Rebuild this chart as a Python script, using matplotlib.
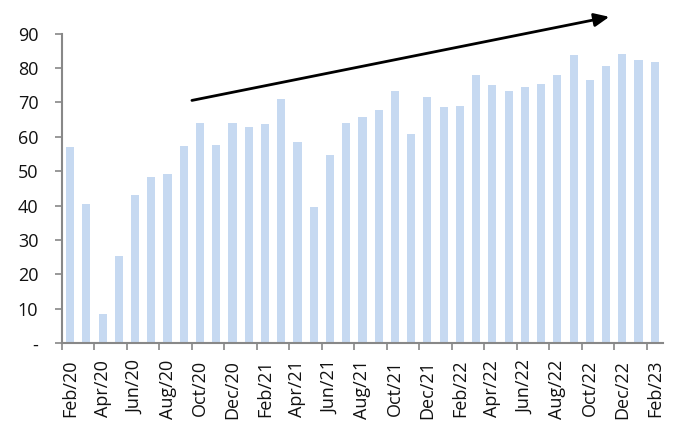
import matplotlib
matplotlib.use("Agg")
import matplotlib.pyplot as plt
import numpy as np

months = ["Feb/20","Mar/20","Apr/20","May/20","Jun/20","Jul/20","Aug/20","Sep/20","Oct/20","Nov/20","Dec/20",
          "Jan/21","Feb/21","Mar/21","Apr/21","May/21","Jun/21","Jul/21","Aug/21","Sep/21","Oct/21","Nov/21","Dec/21",
          "Jan/22","Feb/22","Mar/22","Apr/22","May/22","Jun/22","Jul/22","Aug/22","Sep/22","Oct/22","Nov/22","Dec/22",
          "Jan/23","Feb/23"]
values = [57.1, 40.6, 8.5, 25.3, 43.2, 48.3, 49.3, 57.4, 64.0, 57.7, 64.0,
          62.8, 63.7, 71.1, 58.5, 39.7, 54.7, 64.0, 65.8, 67.8, 73.4, 60.9, 71.5,
          68.7, 69.0, 78.0, 75.1, 73.4, 74.4, 75.4, 78.1, 83.8, 76.6, 80.5, 84.0,
          82.3, 81.8]
yticks = [0, 10, 20, 30, 40, 50, 60, 70, 80, 90]
ytick_labels = ["-", "10", "20", "30", "40", "50", "60", "70", "80", "90"]
arrow_start = (7.5, 70.6)
arrow_end = (33.2, 94.9)

plt.rcParams['font.family'] = ['Open Sans', 'DejaVu Sans']

fig = plt.figure(figsize=(6.73, 4.21), dpi=100)
ax = fig.add_axes([0.0921, 0.1846, 0.985 - 0.0921, 0.92 - 0.1846])

x = np.arange(len(values))
ax.bar(x, values, width=0.5, color="#C6D9F1", zorder=2)

ax.set_xlim(-0.5, len(values) - 0.5)
ax.set_ylim(0, 90)

ax.set_yticks(yticks)
ax.set_yticklabels(ytick_labels, fontsize=13, color="#111111")

# major ticks at category boundaries (no labels), minor ticks for labels
ax.set_xticks(np.arange(-0.5, len(values) - 1, 2))
ax.set_xticklabels([])
ax.set_xticks(x[::2], minor=True)
ax.set_xticklabels(months[::2], minor=True, rotation=90, fontsize=13, color="#111111")
ax.tick_params(axis='x', which='minor', length=0, pad=12)
ax.tick_params(axis='x', which='major', length=5, width=1.2, color="#888888", direction='out')
ax.tick_params(axis='y', length=5, width=1.2, color="#888888", direction='out', pad=12)

for s in ["top", "right"]:
    ax.spines[s].set_visible(False)
for s in ["left", "bottom"]:
    ax.spines[s].set_color("#888888")
    ax.spines[s].set_linewidth(1.5)

ax.annotate("", xy=arrow_end, xytext=arrow_start, xycoords='data',
            arrowprops=dict(arrowstyle="-|>,head_length=0.9,head_width=0.4", color="black", lw=2,
                            shrinkA=0, shrinkB=0),
            annotation_clip=False)

fig.savefig("out.png", dpi=100)
